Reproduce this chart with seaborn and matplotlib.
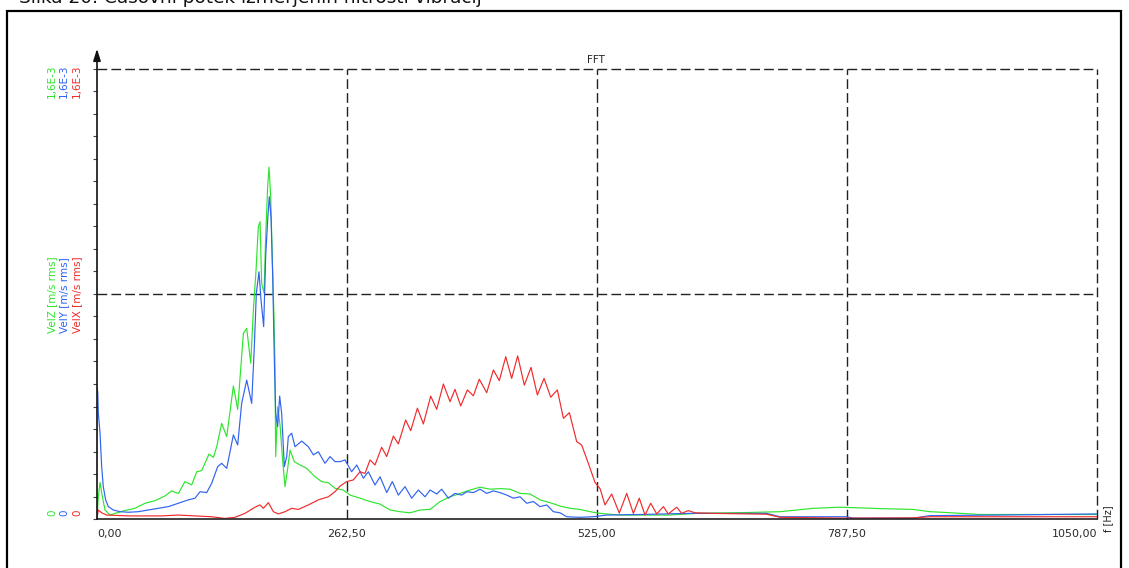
import numpy as np
import pandas as pd
import matplotlib
matplotlib.use("Agg")
import matplotlib.pyplot as plt
from matplotlib.patches import Rectangle
from matplotlib.ticker import MultipleLocator, FixedLocator
import seaborn as sns

# spectra, values in units of 1E-3 m/s rms
green_f = [0, 1.4, 3.2, 5.6, 8.4, 13.7, 18.9, 29.4, 39.9, 50.4, 60.9, 71.4, 78.4, 85.4, 92.4, 99.4,
           104.7, 109.9, 117.6, 122.2, 125.7, 130.9, 136.2, 143.2, 147.7, 153.7, 157.2, 161.4, 164.2,
           167.0, 169.4, 171.2, 172.9, 175.4, 177.1, 179.2, 180.6, 182.4, 184.1, 185.9, 186.9, 187.6,
           189.7, 192.2, 194.6, 197.4, 200.2, 202.7, 207.2, 213.2, 220.2, 228.9, 235.9, 242.9, 249.9,
           258.6, 265.7, 276.2, 286.7, 297.2, 307.7, 318.2, 328.7, 339.2, 349.7, 360.2, 370.7, 381.2,
           391.7, 402.2, 412.7, 423.2, 433.7, 444.2, 454.7, 465.2, 475.7, 486.2, 496.7, 507.2, 517.7,
           528.2, 549.0, 570.0, 600, 629.7, 682.2, 717.2, 752.2, 780.2, 822.2, 857.2, 874.7, 892.2,
           927.2, 979.7, 1050]
green_v = [0.00, 0.08, 0.13, 0.08, 0.032, 0.014, 0.020, 0.030, 0.038, 0.056, 0.065, 0.082, 0.10, 0.091,
           0.133, 0.121, 0.168, 0.172, 0.231, 0.219, 0.257, 0.340, 0.293, 0.473, 0.390, 0.660, 0.678,
           0.554, 0.743, 0.885, 1.039, 1.057, 0.838, 0.803, 1.004, 1.182, 1.251, 1.146, 0.921, 0.708,
           0.542, 0.222, 0.399, 0.334, 0.222, 0.115, 0.180, 0.245, 0.204, 0.192, 0.180, 0.150, 0.133,
           0.129, 0.109, 0.103, 0.085, 0.074, 0.062, 0.053, 0.032, 0.026, 0.022, 0.032, 0.034, 0.062,
           0.079, 0.091, 0.103, 0.113, 0.106, 0.108, 0.106, 0.091, 0.089, 0.068, 0.058, 0.046, 0.038,
           0.034, 0.026, 0.020, 0.014, 0.014, 0.014, 0.020, 0.023, 0.026, 0.038, 0.042, 0.037, 0.034,
           0.026, 0.023, 0.016, 0.016, 0.016]

blue_f = [0, 0.8, 1.4, 3.2, 4.9, 6.6, 9.1, 11.9, 17.2, 24.2, 32.9, 43.4, 53.9, 64.4, 74.9, 85.4, 95.9,
          102.9, 108.2, 115.2, 120.4, 126.7, 130.9, 136.2, 143.2, 147.7, 151.9, 157.2, 162.4, 165.2,
          167.3, 170.1, 172.2, 175.0, 177.1, 179.2, 180.9, 182.7, 184.5, 186.2, 187.6, 189.7, 191.8,
          193.9, 196.7, 199.2, 200.9, 204.4, 207.9, 214.9, 221.9, 227.2, 232.4, 239.4, 244.7, 249.9,
          255.2, 260.4, 267.4, 272.7, 279.7, 284.9, 291.9, 297.2, 304.2, 310.1, 316.4, 323.4, 330.4,
          337.4, 344.4, 349.7, 356.7, 361.9, 368.9, 375.9, 382.9, 388.2, 395.2, 402.2, 409.2, 416.2,
          423.2, 430.2, 437.2, 444.2, 451.2, 458.2, 465.2, 472.2, 479.2, 486.2, 493.2, 507.2, 521.2,
          535.2, 570.2, 622.7, 703.2, 717.2, 787.2, 794.2, 857.2, 874.7, 944.7, 1050]
blue_v = [0.47, 0.45, 0.376, 0.305, 0.186, 0.115, 0.068, 0.044, 0.032, 0.026, 0.024, 0.026, 0.032,
          0.038, 0.044, 0.056, 0.068, 0.074, 0.097, 0.094, 0.127, 0.186, 0.198, 0.180, 0.299, 0.263,
          0.411, 0.494, 0.411, 0.613, 0.803, 0.879, 0.779, 0.684, 0.933, 1.063, 1.146, 1.075, 0.862,
          0.565, 0.376, 0.328, 0.437, 0.376, 0.186, 0.222, 0.293, 0.305, 0.257, 0.277, 0.257, 0.228,
          0.239, 0.198, 0.222, 0.204, 0.204, 0.210, 0.168, 0.192, 0.145, 0.168, 0.121, 0.150, 0.094,
          0.133, 0.085, 0.115, 0.074, 0.103, 0.079, 0.103, 0.089, 0.106, 0.074, 0.091, 0.085, 0.097,
          0.094, 0.106, 0.091, 0.100, 0.094, 0.085, 0.074, 0.079, 0.056, 0.062, 0.044, 0.050, 0.026,
          0.022, 0.008, 0.006, 0.008, 0.014, 0.016, 0.020, 0.020, 0.008, 0.008, 0.003, 0.003, 0.012,
          0.014, 0.018]

red_f = [0, 1.4, 4.9, 10.2, 32.9, 67.9, 85.4, 102.9, 120.4, 134.4, 144.9, 155.4, 165.9, 171.2, 174.7,
         179.9, 185.2, 190.4, 197.4, 204.4, 211.4, 221.9, 232.4, 242.9, 249.9, 255.2, 262.2, 269.2,
         276.2, 281.4, 286.7, 291.9, 298.9, 304.2, 311.2, 316.4, 324.1, 329.4, 336.4, 342.7, 350.4,
         356.7, 363.7, 370.7, 375.9, 381.9, 388.9, 395.2, 401.4, 409.2, 416.2, 422.4, 429.2, 435.4,
         441.7, 448.7, 455.7, 462.4, 469.4, 476.4, 483.4, 489.7, 496.0, 503.7, 508.9, 515.9, 522.9,
         528.2, 533.4, 540.4, 548.4, 556.2, 563.2, 569.4, 575.4, 581.4, 587.7, 594.7, 599.9, 608.7,
         613.9, 620.9, 627.9, 647.2, 703.2, 717.2, 783.6, 857.2, 874.7, 1050]
red_v = [0.005, 0.032, 0.022, 0.014, 0.011, 0.011, 0.014, 0.011, 0.008, 0.002, 0.006, 0.020, 0.042,
         0.050, 0.038, 0.058, 0.026, 0.018, 0.026, 0.038, 0.034, 0.050, 0.068, 0.079, 0.097, 0.117,
         0.133, 0.139, 0.168, 0.162, 0.210, 0.192, 0.255, 0.222, 0.295, 0.267, 0.352, 0.314, 0.394,
         0.338, 0.437, 0.390, 0.480, 0.417, 0.461, 0.402, 0.459, 0.438, 0.497, 0.449, 0.530, 0.492,
         0.577, 0.500, 0.580, 0.476, 0.539, 0.441, 0.500, 0.433, 0.459, 0.358, 0.378, 0.275, 0.263,
         0.198, 0.130, 0.108, 0.050, 0.089, 0.021, 0.091, 0.020, 0.074, 0.014, 0.056, 0.018, 0.044,
         0.018, 0.042, 0.020, 0.030, 0.022, 0.020, 0.017, 0.006, 0.003, 0.004, 0.008, 0.008]

series_names = ["VelZ [m/s rms]", "VelY [m/s rms]", "VelX [m/s rms]"]
series_colors = ["#2ee52e", "#2f63f0", "#ef2b2b"]
x_ticks = [0, 262.5, 525, 787.5, 1050]
x_tick_labels = ["0,00", "262,50", "525,00", "787,50", "1050,00"]
y_max_label = "1,6E-3"

sns.set_style("white")
plt.rcParams["font.family"] = ["DejaVu Sans"]

W, H = 1129, 568
fig = plt.figure(figsize=(W / 100, H / 100), dpi=100)
ax = fig.add_axes([97 / W, 49 / H, 1000 / W, 450 / H])

frames = [(green_f, green_v), (blue_f, blue_v), (red_f, red_v)]
for (f, v), name, col in zip(frames, series_names, series_colors):
    df = pd.DataFrame({"f": f, "v": v})
    sns.lineplot(data=df, x="f", y="v", color=col, lw=0.85, ax=ax,
                 estimator=None, sort=False, label=name, legend=False)

ax.set_xlim(0, 1050)
ax.set_ylim(0, 1.6)
ax.set_xlabel("")
ax.set_ylabel("")

# dashed grid
dash = (0, (7, 3))
for xv in x_ticks[1:]:
    ax.axvline(xv, color="#222222", lw=1.0, ls=dash, zorder=1, clip_on=False)
for yv in [0.8, 1.6]:
    ax.axhline(yv, color="#222222", lw=1.0, ls=dash, zorder=1, clip_on=False)

for s in ["top", "right", "left"]:
    ax.spines[s].set_visible(False)
ax.spines["bottom"].set_color("#222222")
ax.spines["bottom"].set_linewidth(1.2)

# y axis with arrow
ax.annotate("", xy=(0, 1.045), xytext=(0, 0), xycoords="axes fraction",
            arrowprops=dict(arrowstyle="-|>,head_length=0.7,head_width=0.22",
                            color="#111111", lw=1.2, mutation_scale=10,
                            shrinkA=0, shrinkB=0))

ax.xaxis.set_major_locator(FixedLocator(x_ticks))
ax.xaxis.set_minor_locator(MultipleLocator(26.25))
ax.set_xticklabels(x_tick_labels, fontsize=8, color="#2a2a2a")
tl = ax.get_xticklabels()
tl[0].set_ha("left")
tl[-1].set_ha("right")
ax.tick_params(axis="x", which="major", direction="out", length=4, width=1, color="#222222", pad=3)
ax.tick_params(axis="x", which="minor", direction="out", length=3, width=0.8, color="#444444")
ax.yaxis.set_major_locator(MultipleLocator(0.8))
ax.yaxis.set_minor_locator(MultipleLocator(0.08))
ax.tick_params(axis="y", which="both", direction="out", length=3, width=0.8, color="#444444",
               labelleft=False, left=True)

ax.text(0.499, 1.008, "FFT", transform=ax.transAxes, ha="center", va="bottom", fontsize=7.5,
        color="#222222")

# coloured axis annotations
for xpx, name, col in zip([52, 64, 77], series_names, series_colors):
    xf = xpx / W
    fig.text(xf, 1 - 64 / H, y_max_label, rotation=90, ha="center", va="top", fontsize=7.5, color=col)
    fig.text(xf, 1 - 295 / H, name, rotation=90, ha="center", va="center", fontsize=7.5, color=col)
    fig.text(xf, 1 - 513 / H, "0", rotation=90, ha="center", va="center", fontsize=7.5, color=col)

fig.text(1108 / W, 1 - 519 / H, "f [Hz]", rotation=90, ha="center", va="center", fontsize=7,
         color="#222222")

# caption cut off at the top, as in the source page, and the surrounding frame
fig.text(19 / W, 1 - 3 / H, "Slika 20: Časovni potek izmerjenih hitrosti vibracij",
         ha="left", va="baseline", fontsize=13.3, color="#111111")
fig.patches.append(Rectangle((7 / W, -0.05), (1121 - 7) / W, (H - 11) / H + 0.05,
                             transform=fig.transFigure, fill=False, lw=1.6, ec="black"))

fig.savefig("out.png", dpi=100)
